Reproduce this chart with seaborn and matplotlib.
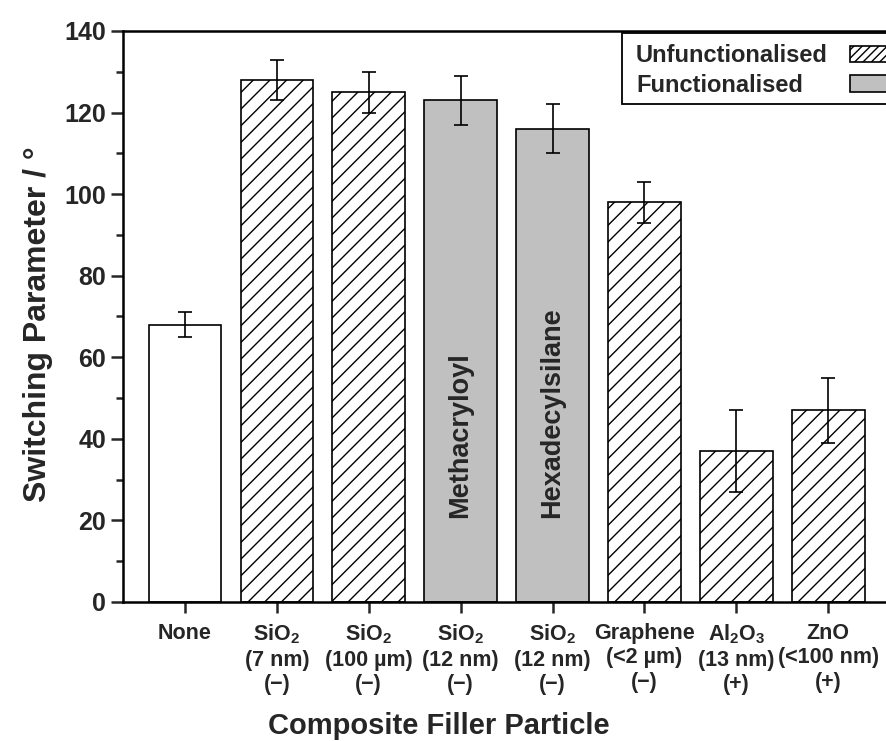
import matplotlib
matplotlib.use("Agg")
import matplotlib.pyplot as plt
import seaborn as sns
import pandas as pd
from matplotlib.patches import Rectangle
from matplotlib.ticker import MultipleLocator

categories = ["None",
              "SiO$_2$\n(7 nm)\n(\u2212)",
              "SiO$_2$\n(100 \u00b5m)\n(\u2212)",
              "SiO$_2$\n(12 nm)\n(\u2212)",
              "SiO$_2$\n(12 nm)\n(\u2212)",
              "Graphene\n(<2 \u00b5m)\n(\u2212)",
              "Al$_2$O$_3$\n(13 nm)\n(+)",
              "ZnO\n(<100 nm)\n(+)"]
values = [68, 128, 125, 123, 116, 98, 37, 47]
errors = [3, 5, 5, 6, 6, 5, 10, 8]
kinds = ["none", "unf", "unf", "fun", "fun", "unf", "unf", "unf"]
bar_text = ["", "", "", "Methacryloyl", "Hexadecylsilane", "", "", ""]
legend_labels = ["Unfunctionalised", "Functionalised"]

sns.set_theme(style="ticks")
plt.rcParams["font.family"] = ["Liberation Sans", "DejaVu Sans"]
plt.rcParams["font.weight"] = "bold"
plt.rcParams["mathtext.fontset"] = "custom"
plt.rcParams["mathtext.rm"] = "Liberation Sans:bold"
plt.rcParams["mathtext.bf"] = "Liberation Sans:bold"
plt.rcParams["mathtext.default"] = "rm"
plt.rcParams["hatch.linewidth"] = 1.0

W, H = 886, 741
fig = plt.figure(figsize=(W / 100, H / 100), dpi=100)
ax = fig.add_axes([0.1388, 0.1876, 0.88, 0.7706])

def px(x, y):
    return (x / W, 1 - y / H)

grey = "#c0c0c0"
df = pd.DataFrame({"cat": [f"c{i}" for i in range(len(values))], "val": values})
fills = {"none": "white", "unf": "white", "fun": grey}
sns.barplot(data=df, x="cat", y="val", ax=ax, width=0.79,
            palette=[fills[k] for k in kinds], hue="cat", legend=False,
            edgecolor="black", linewidth=1.2, saturation=1)
for patch, k in zip(ax.patches, kinds):
    if k == "unf":
        patch.set_hatch("//")

ax.errorbar(range(len(values)), values, yerr=errors, fmt="none",
            ecolor="black", elinewidth=1.2, capsize=5, capthick=1.2, zorder=5)

for i, t in enumerate(bar_text):
    if t:
        ax.text(i, 20.5, t, rotation=90, ha="center", va="bottom",
                fontsize=19.5, fontweight="bold")

ax.set_xticks(range(len(values)))
ax.set_xticklabels(categories, fontsize=15.5, fontweight="bold", linespacing=1.22)
ax.set_xlim(-0.674, 7.81)
ax.set_ylim(0, 140)
ax.yaxis.set_major_locator(MultipleLocator(20))
ax.yaxis.set_minor_locator(MultipleLocator(10))
ax.tick_params(axis="y", which="major", length=9, width=1.8, labelsize=18, direction="out", pad=3)
ax.tick_params(axis="y", which="minor", length=5, width=1.8, direction="out")
ax.tick_params(axis="x", which="major", length=8, width=1.8, direction="out", pad=7)
for lab in ax.get_yticklabels():
    lab.set_fontweight("bold")

ax.set_xlabel("Composite Filler Particle", fontsize=21, fontweight="bold")
ax.xaxis.set_label_coords(0.405, -0.193)
ax.set_ylabel("Switching Parameter / \u00b0", fontsize=23, fontweight="bold")
ax.yaxis.set_label_coords(-0.09, 0.487)
for s in ["left", "bottom", "top", "right"]:
    ax.spines[s].set_linewidth(1.8)
    ax.spines[s].set_color("black")

# legend (text left-aligned, keys on the right, partly cut by the figure edge)
x0, y0 = px(622, 104)
x1, y1 = px(905, 33)
fig.add_artist(Rectangle((x0, y0), x1 - x0, y1 - y0, transform=fig.transFigure,
                         facecolor="white", edgecolor="black", linewidth=1.3, zorder=6))
key_fill = [("white", "////"), (grey, None)]
key_rows = [(46, 62), (75, 92)]
for lab, (fc, hat), (ktop, kbot) in zip(legend_labels, key_fill, key_rows):
    tx, ty = px(636, kbot)
    fig.text(tx, ty, lab, fontsize=17, fontweight="bold", ha="left", va="baseline", zorder=7)
    kx0, ky0 = px(850, kbot)
    kx1, ky1 = px(900, ktop)
    fig.add_artist(Rectangle((kx0, ky0), kx1 - kx0, ky1 - ky0, transform=fig.transFigure,
                             facecolor=fc, hatch=hat, edgecolor="black", linewidth=1.2, zorder=7))

fig.savefig("out.png", dpi=100)
